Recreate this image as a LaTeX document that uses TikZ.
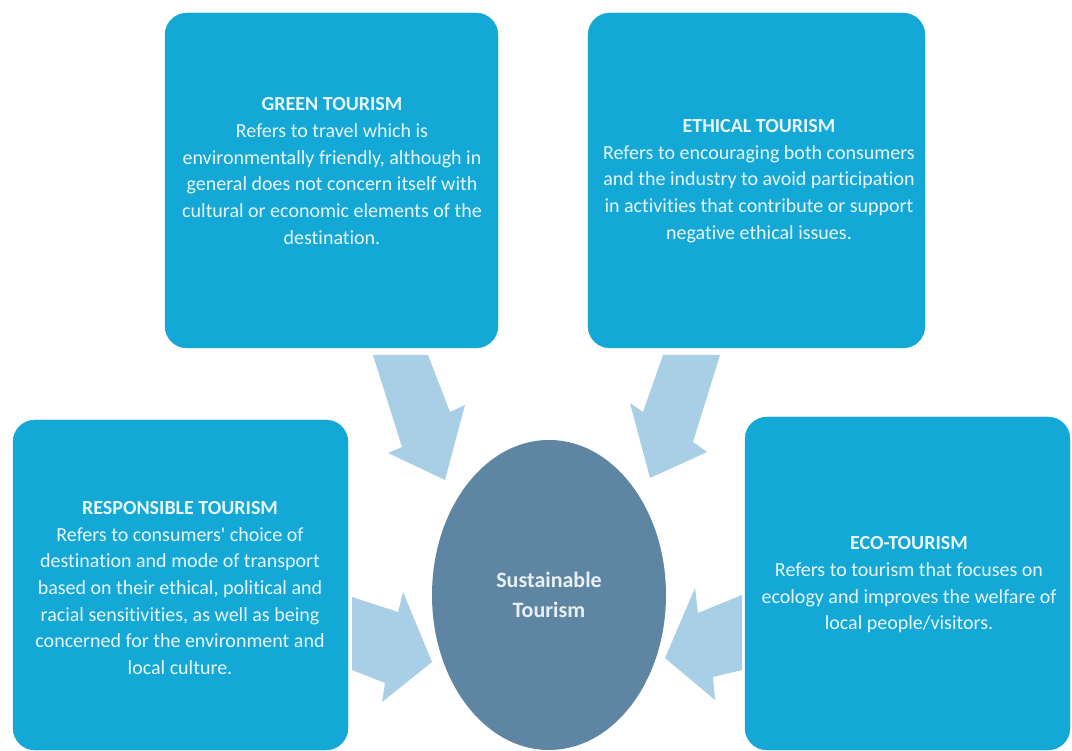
\documentclass[tikz,border=0pt]{standalone}
\usepackage{fontspec}
\setmainfont{Carlito}[Ligatures={NoCommon}]
\usetikzlibrary{shapes.geometric}
\definecolor{boxblue}{HTML}{13A8D6}
\definecolor{arrowblue}{HTML}{A9CFE7}
\definecolor{coreblue}{HTML}{5E85A1}
\definecolor{boxtext}{HTML}{E8F6FA}
\definecolor{coretext}{HTML}{E9F0F5}
\tikzset{
  card/.style={draw=boxblue, fill=boxblue, rounded corners=22pt, inner sep=0pt},
  cardtext/.style={text=boxtext, align=center, inner sep=0pt,
    font=\fontsize{20}{26.7}\selectfont},
  core/.style={ellipse, fill=coreblue, draw=none, inner sep=0pt,
    text=coretext, align=center, font=\fontsize{22}{30}\selectfont\bfseries},
  blockarrow/.style={fill=arrowblue, draw=none}
}
\begin{document}
\begin{tikzpicture}[x=1pt, y=-1pt]
\useasboundingbox (0,0) rectangle (1072,751);
\fill[white] (0,0) rectangle (1072,751);

% block arrows pointing to the centre
\fill[blockarrow] (373,355) -- (428,355) -- (450,412) -- (465,405) -- (445,480) -- (388,453) -- (402,447) -- cycle;
\fill[blockarrow] (663,355) -- (720,355) -- (693,442) -- (707,452) -- (650,478) -- (630,403) -- (643,412) -- cycle;
\fill[blockarrow] (352,597) -- (398,612) -- (403,592) -- (432,662) -- (382,702) -- (385,683) -- (352,670) -- cycle;
\fill[blockarrow] (742,595) -- (698,613) -- (695,588) -- (665,658) -- (715,700) -- (713,677) -- (742,670) -- cycle;

% cards
\node[card, minimum width=333pt, minimum height=335pt] (green) at (331.5,180.5) {};
\node[card, minimum width=337pt, minimum height=335pt] (ethical) at (756.5,180.5) {};
\node[card, minimum width=335pt, minimum height=330pt] (responsible) at (180.5,585) {};
\node[card, minimum width=325pt, minimum height=333pt] (eco) at (907.5,583.5) {};

\node[cardtext] (greentxt) at (332,171) {\textbf{GREEN TOURISM}\\Refers to travel which is\\environmentally friendly, although in\\general does not concern itself with\\cultural or economic elements of the\\destination.};
\node[cardtext] (ethicaltxt) at (759,181) {\textbf{ETHICAL TOURISM}\\Refers to encouraging both consumers\\and the industry to avoid participation\\in activities that contribute or support\\negative ethical issues.};
\node[cardtext] (responsibletxt) at (180,588) {\textbf{RESPONSIBLE TOURISM}\\Refers to consumers\textquotesingle{} choice of\\destination and mode of transport\\based on their ethical, political and\\racial sensitivities, as well as being\\concerned for the environment and\\local culture.};
\node[cardtext] (ecotxt) at (909,585) {\textbf{ECO-TOURISM}\\Refers to tourism that focuses on\\ecology and improves the welfare of\\local people/visitors.};

% centre
\node[core, minimum width=234pt, minimum height=310pt] (core) at (549,595) {Sustainable\\Tourism};
\end{tikzpicture}
\end{document}
